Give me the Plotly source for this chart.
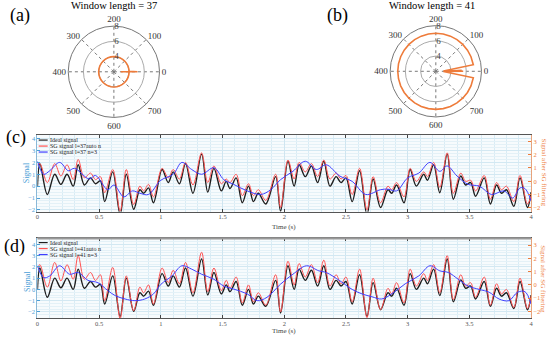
import plotly.graph_objects as go

# ---------------- data ----------------
# polar panels: window index (0..800 around the circle) and radial value
idx_a = [0, 0, 4, 25, 50, 75, 100, 125, 150, 175, 200, 225, 250, 275, 300, 325, 350, 375,
         400, 425, 450, 475, 500, 525, 550, 575, 600, 625, 650, 675, 700, 725, 750, 775, 800]
r_a = [2.9, 5.1, 4.0, 4.0, 4.0, 4.0, 4.0, 4.0, 4.0, 4.0, 4.0, 4.0, 4.0, 4.0, 4.0, 4.0, 4.0, 4.0,
       4.0, 4.0, 4.0, 4.0, 4.0, 4.0, 4.0, 4.0, 4.0, 4.0, 4.0, 4.0, 4.0, 4.0, 4.0, 4.0, 4.0]

idx_b = [0, 2, 4, 6, 22, 50, 75, 100, 125, 150, 175, 200, 225, 250, 275, 300, 325, 350, 375,
         400, 425, 450, 475, 500, 525, 550, 575, 600, 625, 650, 675, 700, 725, 750, 778, 796, 800]
r_b = [5.6, 3.2, 5.4, 3.0, 7.0, 7.0, 7.0, 7.0, 7.0, 7.0, 7.0, 7.0, 7.0, 7.0, 7.0, 7.0, 7.0, 7.0, 7.0,
       7.0, 7.0, 7.0, 7.0, 7.0, 7.0, 7.0, 7.0, 7.0, 7.0, 7.0, 7.0, 7.0, 7.0, 7.0, 7.0, 3.0, 5.6]

angle_ticks = [0, 100, 200, 300, 400, 500, 600, 700]
radial_ticks = [4, 6, 8]

# time-series panels: turning points of the signals (time in s)
t_sig = [0.00, 0.02, 0.08, 0.14, 0.19, 0.24, 0.29, 0.33, 0.38, 0.43,
         0.47, 0.51, 0.545, 0.61, 0.67, 0.72, 0.78, 0.83, 0.86, 0.90,
         0.94, 1.01, 1.06, 1.10, 1.15, 1.20, 1.26, 1.33, 1.38, 1.43,
         1.49, 1.53, 1.56, 1.61, 1.66, 1.71, 1.75, 1.79, 1.85, 1.93,
         1.97, 2.03, 2.08, 2.12, 2.17, 2.22, 2.27, 2.32, 2.37, 2.42,
         2.46, 2.50, 2.55, 2.61, 2.67, 2.72, 2.78, 2.84, 2.87, 2.91,
         2.97, 3.02, 3.07, 3.13, 3.16, 3.21, 3.26, 3.32, 3.37, 3.43,
         3.47, 3.51, 3.55, 3.62, 3.67, 3.72, 3.76, 3.80, 3.86, 3.91,
         3.97, 4.00]
ideal = [0.0, 1.9, -0.7, 1.0, 0.15, 1.0, 0.0, 1.8, 0.1, 0.7,
         0.2, 0.45, -1.3, 1.2, -2.4, 1.0, -1.95, -0.3, -0.6, -0.15,
         -1.4, 1.4, 0.3, 1.2, 0.2, 1.9, -0.6, 2.7, -0.5, 1.5,
         -0.4, 0.4, -0.2, 0.7, -1.4, 0.0, -1.3, -0.6, -1.5, 0.8,
         -2.1, 2.1, 0.0, 1.8, 0.8, 1.7, 0.3, 2.1, 0.0, 0.8,
         0.3, 0.7, -1.3, 1.3, -2.4, 0.6, -1.8, -0.3, -0.6, 0.1,
         -1.4, 1.4, 0.0, 1.0, 0.5, 1.8, -0.55, 2.7, -1.1, 0.85,
         0.1, 0.3, -0.85, 0.7, -1.5, 0.1, -0.6, -0.3, -1.7, 0.7,
         -1.8, -0.5]
sg37_auto = [1.8, 1.9, 0.3, 1.9, 0.85, 1.8, 0.55, 2.25, 0.7, 1.1,
             0.55, 0.8, -0.55, 1.4, -2.1, 1.4, -1.55, 0.0, -0.4, 0.15,
             -0.9, 1.5, 0.7, 1.4, 0.6, 2.0, 0.1, 2.8, 0.3, 1.7,
             0.2, 0.6, 0.3, 1.0, -0.8, 0.2, -0.8, -0.3, -1.2, 1.0,
             -1.8, 2.2, 0.6, 2.0, 1.2, 1.9, 0.8, 2.2, 0.6, 1.1,
             0.6, 0.9, -0.7, 1.5, -2.0, 0.8, -1.4, 0.0, -0.3, 0.3,
             -0.9, 1.5, 0.4, 1.2, 0.8, 2.0, -0.1, 2.8, -0.6, 1.1,
             0.4, 0.5, -0.4, 0.9, -1.1, 0.3, -0.3, 0.0, -1.3, 0.9,
             -1.5, -0.8]
sg41_auto = [1.9, 2.2, 0.2, 2.4, 0.75, 2.2, 0.9, 3.0, 0.9, 1.5,
             0.8, 1.3, -1.0, 1.95, -2.6, 1.2, -1.9, 0.2, -0.3, 0.4,
             -1.3, 1.9, 0.6, 1.7, 0.5, 2.4, -0.3, 3.3, -0.2, 1.9,
             -0.1, 0.8, 0.1, 1.1, -1.2, 0.4, -1.1, -0.3, -1.4, 1.3,
             -2.0, 2.5, 0.4, 2.3, 1.1, 2.2, 0.6, 2.6, 0.3, 1.3,
             0.5, 1.1, -1.1, 1.8, -2.5, 1.0, -1.8, 0.1, -0.4, 0.6,
             -1.2, 1.8, 0.3, 1.4, 0.8, 2.2, -0.3, 3.0, -0.9, 1.3,
             0.3, 0.6, -0.7, 1.1, -1.4, 0.5, -0.4, 0.0, -1.6, 1.0,
             -1.7, -0.6]

t_n3_37 = [0.00, 0.05, 0.10, 0.18, 0.25, 0.30, 0.42, 0.47, 0.57, 0.62,
           0.70, 0.77, 0.83, 0.90, 1.00, 1.10, 1.17, 1.25, 1.33, 1.43,
           1.51, 1.59, 1.70, 1.81, 1.89, 1.97, 2.07, 2.17, 2.26, 2.34,
           2.45, 2.55, 2.66, 2.78, 2.84, 2.91, 3.00, 3.09, 3.18, 3.26,
           3.32, 3.40, 3.49, 3.58, 3.68, 3.78, 3.85, 3.91, 3.95, 4.00]
sg37_n3 = [2.1, 1.0, 1.3, 2.0, 1.3, 1.5, 0.6, 0.9, -0.3, 0.1,
           -0.9, -0.4, -0.6, -0.7, 0.5, 1.0, 2.0, 1.4, 1.0, 1.55,
           0.55, 0.15, -0.4, -0.7, -0.3, 0.55, 1.25, 2.1, 1.4, 1.8,
           0.85, 0.4, -0.7, -0.3, -0.25, -0.4, 0.7, 1.1, 2.0, 1.25,
           1.7, 0.85, 0.15, 0.0, -0.7, -0.4, -1.0, -0.15, -0.2, -1.25]

t_n3_41 = [0.00, 0.05, 0.10, 0.18, 0.26, 0.33, 0.41, 0.49, 0.57, 0.63,
           0.71, 0.79, 0.87, 0.94, 1.00, 1.09, 1.17, 1.25, 1.33, 1.43,
           1.51, 1.59, 1.70, 1.78, 1.86, 1.97, 2.07, 2.18, 2.28, 2.34,
           2.45, 2.55, 2.63, 2.71, 2.79, 2.89, 2.98, 3.09, 3.18, 3.26,
           3.33, 3.41, 3.49, 3.58, 3.66, 3.74, 3.82, 3.89, 3.95, 4.00]
sg41_n3 = [2.1, 1.05, 1.2, 2.1, 1.35, 1.5, 0.8, 0.6, -0.1, -0.55,
           -0.85, -1.0, -0.85, -0.4, 0.45, 1.2, 2.1, 1.8, 1.35, 0.9,
           0.3, 0.03, -0.4, -1.0, -0.7, 0.47, 1.35, 2.1, 1.65, 1.5,
           0.77, 0.0, -0.4, -0.65, -0.85, -0.25, 0.5, 1.2, 2.1, 1.65,
           1.5, 0.9, 0.3, 0.0, -0.25, -0.85, -1.0, -0.25, -0.2, -1.3]

time_ticks = [0, 0.5, 1, 1.5, 2, 2.5, 3, 3.5, 4]
time_labels = ["0", "0.5", "1", "1.5", "2", "2.5", "3", "3.5", "4"]
left_ticks = [-2, -1, 0, 1, 2, 3, 4]
right_ticks = [-2, -1, 0, 1, 2, 3]

# ---------------- style ----------------
FONT = "Liberation Serif, Times New Roman, Times, serif"
W, H = 550, 339
ORANGE = "#EE7B3A"
LBLUE = "#4A9ED6"
BLACK = "#1e1e1e"
RED = "#FF5252"
BLUE = "#3F3FFF"


def px(x):
    return x / W


def py(y):
    return 1 - y / H


fig = go.Figure()

# polar traces
fig.add_trace(go.Scatterpolar(r=r_a, theta=[i * 360 / 800 for i in idx_a], mode="lines",
                              line=dict(color=ORANGE, width=1.6), subplot="polar", showlegend=False))
fig.add_trace(go.Scatterpolar(r=r_b, theta=[i * 360 / 800 for i in idx_b], mode="lines",
                              line=dict(color=ORANGE, width=1.6), subplot="polar2", showlegend=False))

# panel (c)
fig.add_trace(go.Scatter(x=t_sig, y=ideal, mode="lines", line=dict(color=BLACK, width=1.4, shape="spline"),
                         xaxis="x", yaxis="y", showlegend=False))
fig.add_trace(go.Scatter(x=t_sig, y=sg37_auto, mode="lines", line=dict(color=RED, width=1.0, shape="spline"),
                         xaxis="x", yaxis="y", showlegend=False))
fig.add_trace(go.Scatter(x=t_n3_37, y=sg37_n3, mode="lines", line=dict(color=BLUE, width=1.0, shape="spline"),
                         xaxis="x", yaxis="y", showlegend=False))
fig.add_trace(go.Scatter(x=[None], y=[None], xaxis="x", yaxis="y2", showlegend=False))

# panel (d)
fig.add_trace(go.Scatter(x=t_sig, y=ideal, mode="lines", line=dict(color=BLACK, width=1.4, shape="spline"),
                         xaxis="x2", yaxis="y3", showlegend=False))
fig.add_trace(go.Scatter(x=t_sig, y=sg41_auto, mode="lines", line=dict(color=RED, width=1.0, shape="spline"),
                         xaxis="x2", yaxis="y3", showlegend=False))
fig.add_trace(go.Scatter(x=t_n3_41, y=sg41_n3, mode="lines", line=dict(color=BLUE, width=1.0, shape="spline"),
                         xaxis="x2", yaxis="y3", showlegend=False))
fig.add_trace(go.Scatter(x=[None], y=[None], xaxis="x2", yaxis="y4", showlegend=False))


def polar_layout(cx, cy, rad):
    return dict(
        domain=dict(x=[px(cx - rad), px(cx + rad)], y=[py(cy + rad), py(cy - rad)]),
        bgcolor="white",
        angularaxis=dict(rotation=0, direction="counterclockwise",
                         tickvals=[v * 360 / 800 for v in angle_ticks],
                         ticktext=[str(v) for v in angle_ticks],
                         tickfont=dict(family=FONT, size=9, color="#333"),
                         showline=True, linecolor="#777", linewidth=1,
                         gridcolor="#777", griddash="dot", ticks=""),
        radialaxis=dict(range=[2, 8], tickvals=radial_ticks, angle=90, tickangle=90,
                        showline=False, gridcolor="#aaa", ticks="",
                        tickfont=dict(family=FONT, size=9, color="#444")),
    )


def xaxis_layout(anchor):
    return dict(domain=[px(35.7), px(533)], anchor=anchor, range=[0, 4],
                tickvals=time_ticks, ticktext=time_labels,
                tickfont=dict(family=FONT, size=6.5, color="#555"),
                ticklabelstandoff=-1,
                ticks="inside", ticklen=3, tickcolor="#444", mirror="ticks",
                showline=True, linecolor="#555", linewidth=1, zeroline=False,
                showgrid=True, gridcolor="#cfe5f0", gridwidth=0.8,
                minor=dict(dtick=0.1, showgrid=True, gridcolor="#d9ecf5", gridwidth=0.7))


def yleft_layout(anchor, dom, rng):
    return dict(domain=dom, anchor=anchor, range=rng, tickvals=left_ticks,
                tickfont=dict(family=FONT, size=6.5, color=LBLUE),
                ticks="inside", ticklen=3, tickcolor=LBLUE,
                showline=True, linecolor="#8ab8d8", linewidth=1, zeroline=False,
                showgrid=True, gridcolor="#d3e8f2", gridwidth=0.8,
                minor=dict(dtick=0.25, showgrid=True, gridcolor="#e4f1f7", gridwidth=0.6))


def yright_layout(over, anchor, rng):
    return dict(overlaying=over, anchor=anchor, side="right", range=rng, tickvals=right_ticks,
                tickfont=dict(family=FONT, size=6.5, color=ORANGE),
                ticks="inside", ticklen=3, tickcolor=ORANGE,
                showline=True, linecolor="#e7a37c", linewidth=1, zeroline=False, showgrid=False)


ann = []


def text(x, y, s, size, color="black", angle=0, xanchor="center"):
    ann.append(dict(x=px(x), y=py(y), xref="paper", yref="paper", text=s, showarrow=False,
                    xanchor=xanchor, yanchor="middle", textangle=angle, borderpad=0,
                    font=dict(family=FONT, size=size, color=color)))


text(18, 16, "(a)", 18)
text(338, 16, "(b)", 18)
text(14, 138, "(c)", 18)
text(13, 247, "(d)", 18)
text(113, 5.5, "Window length = 37", 10.5)
text(433, 5.5, "Window length = 41", 10.5)
text(25, 173, "Signal", 8, LBLUE, -90)
text(25, 282, "Signal", 8, LBLUE, -90)
text(545, 173, "Signal after SG filtering", 7, ORANGE, 90)
text(545, 280, "Signal after SG filtering", 7, ORANGE, 90)
text(284, 227.5, "Time (s)", 7, "#444")
text(284, 331.5, "Time (s)", 7, "#444")

shapes = []


def legend(x0, ys, labels):
    cols = [BLACK, RED, BLUE]
    for yy, lab, c in zip(ys, labels, cols):
        shapes.append(dict(type="line", xref="paper", yref="paper", x0=px(x0), x1=px(x0 + 9),
                           y0=py(yy), y1=py(yy), line=dict(color=c, width=1.2)))
        text(x0 + 10.5, yy, lab, 6, "#222", xanchor="left")


legend(37, [140.5, 146.5, 152.5], ["Ideal signal", "SG signal l=37auto n", "SG signal l=37 n=3"])
legend(37, [243.3, 249.3, 255.3], ["Ideal signal", "SG signal l=41auto n", "SG signal l=41 n=3"])

# thick top border of panel (d)
shapes.append(dict(type="line", xref="paper", yref="paper", x0=px(35.7), x1=px(533),
                   y0=py(239), y1=py(239), line=dict(color="#999", width=2.2)))

fig.update_layout(
    width=W, height=H, autosize=False, margin=dict(l=0, r=0, t=0, b=0),
    paper_bgcolor="white", plot_bgcolor="#f7fbfd", showlegend=False,
    font=dict(family=FONT),
    polar=polar_layout(112.7, 72.0, 46),
    polar2=polar_layout(437.0, 71.5, 46),
    xaxis=xaxis_layout("y"),
    yaxis=yleft_layout("x", [py(212.3), py(135.5)], [-2.15, 4.3]),
    yaxis2=yright_layout("y", "x", [-2.28, 3.47]),
    xaxis2=xaxis_layout("y3"),
    yaxis3=yleft_layout("x2", [py(319.3), py(239)], [-2.57, 4.54]),
    yaxis4=yright_layout("y3", "x2", [-2.53, 3.51]),
    annotations=ann, shapes=shapes,
)

fig.write_html("out.html", config={"displayModeBar": False},
               post_script="document.body.style.margin='0';document.body.style.padding='0';")
